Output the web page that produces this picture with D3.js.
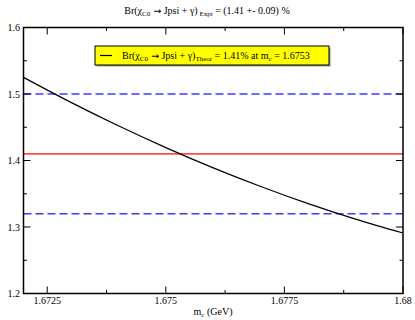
<!DOCTYPE html>
<html><head><meta charset="utf-8">
<script src="https://cdn.jsdelivr.net/npm/d3@7"></script>
<style>body{margin:0;background:#fff}svg{display:block}text{font-family:'Liberation Serif','Times New Roman',Times,'DejaVu Serif',serif}</style>
</head><body><svg id="c" width="415" height="320"></svg>
<script>
// data
const mc = [1.672, 1.673, 1.674, 1.675, 1.676, 1.677, 1.678, 1.679, 1.680];
const br = [1.525, 1.4874, 1.4522, 1.4194, 1.3889, 1.3609, 1.3352, 1.3119, 1.291];
const theorValue = 1.41;
const exptBand = [1.32, 1.50];
const xTicks = [1.6725, 1.675, 1.6775, 1.68];
const xTickLabels = ["1.6725", "1.675", "1.6775", "1.68"];
const xMinor = [1.67375, 1.67625, 1.67875];
const yTicks = [1.2, 1.3, 1.4, 1.5, 1.6];
const yTickLabels = ["1.2", "1.3", "1.4", "1.5", "1.6"];
const yMinor = [1.25, 1.35, 1.45, 1.55];

const FONT = "'Liberation Serif','Times New Roman',Times,'DejaVu Serif',serif";
const svg = d3.select("#c");
const L = 23.5, R = 403, T = 27.5, B = 293.5;
const x = d3.scaleLinear().domain([1.672, 1.68]).range([L, R]);
const y = d3.scaleLinear().domain([1.2, 1.6]).range([B, T]);
const txt = (sel) => sel.append("text").attr("font-family", FONT).attr("font-size", 10);
const arrow = (t) => t.append("tspan").attr("font-family", "'DejaVu Sans',sans-serif").attr("font-size", 9.5).text(" \u2192");

// title
const title = txt(svg).attr("x", 207).attr("y", 14).attr("text-anchor", "middle");
title.append("tspan").text("Br(\u03C7");
title.append("tspan").attr("font-size", 7).attr("dy", 2).text("C0");
arrow(title).attr("dy", -2);
title.append("tspan").text(" Jpsi + \u03B3)");
title.append("tspan").attr("font-size", 7).attr("dy", 2).text(" Expt");
title.append("tspan").attr("dy", -2).text(" = (1.41 +- 0.09) %");

// lines
svg.append("line").attr("x1", L).attr("x2", R).attr("y1", y(theorValue)).attr("y2", y(theorValue))
  .attr("stroke", "#ff4b4b").attr("stroke-width", 1.6);
exptBand.forEach(v => {
  svg.append("line").attr("x1", L).attr("x2", R).attr("y1", y(v)).attr("y2", y(v))
    .attr("stroke", "#3b3bff").attr("stroke-width", 1.6).attr("stroke-dasharray", "8,4");
});
svg.append("path").datum(mc.map((m, i) => [m, br[i]]))
  .attr("d", d3.line().x(d => x(d[0])).y(d => y(d[1])).curve(d3.curveMonotoneX))
  .attr("fill", "none").attr("stroke", "#000").attr("stroke-width", 1.2);

// frame
svg.append("rect").attr("x", L).attr("y", T).attr("width", R - L).attr("height", B - T)
  .attr("fill", "none").attr("stroke", "#000").attr("stroke-width", 1.5);

// ticks (inward, all four sides)
const tk = svg.append("g").attr("stroke", "#000").attr("stroke-width", 1);
xTicks.forEach(v => {
  tk.append("line").attr("x1", x(v)).attr("x2", x(v)).attr("y1", B).attr("y2", B - 7);
  tk.append("line").attr("x1", x(v)).attr("x2", x(v)).attr("y1", T).attr("y2", T + 7);
});
xMinor.forEach(v => {
  tk.append("line").attr("x1", x(v)).attr("x2", x(v)).attr("y1", B).attr("y2", B - 3.5);
  tk.append("line").attr("x1", x(v)).attr("x2", x(v)).attr("y1", T).attr("y2", T + 3.5);
});
yTicks.forEach(v => {
  tk.append("line").attr("x1", L).attr("x2", L + 7).attr("y1", y(v)).attr("y2", y(v));
  tk.append("line").attr("x1", R).attr("x2", R - 7).attr("y1", y(v)).attr("y2", y(v));
});
yMinor.forEach(v => {
  tk.append("line").attr("x1", L).attr("x2", L + 3.5).attr("y1", y(v)).attr("y2", y(v));
  tk.append("line").attr("x1", R).attr("x2", R - 3.5).attr("y1", y(v)).attr("y2", y(v));
});

// tick labels
xTicks.forEach((v, i) => {
  txt(svg).attr("x", x(v)).attr("y", 304).attr("text-anchor", "middle").text(xTickLabels[i]);
});
yTicks.forEach((v, i) => {
  txt(svg).attr("x", 20).attr("y", y(v) + 3.5).attr("text-anchor", "end").text(yTickLabels[i]);
});

// x label
const xl = txt(svg).attr("x", 213).attr("y", 315).attr("text-anchor", "middle");
xl.append("tspan").text("m");
xl.append("tspan").attr("font-size", 7).attr("dy", 2).text("c");
xl.append("tspan").attr("dy", -2).text(" (GeV)");

// legend
svg.append("rect").attr("x", 96.5).attr("y", 47.5).attr("width", 234).attr("height", 19).attr("fill", "#999");
svg.append("rect").attr("x", 95).attr("y", 46).attr("width", 234).attr("height", 19)
  .attr("fill", "#ffff00").attr("stroke", "#000").attr("stroke-width", 1);
svg.append("line").attr("x1", 100).attr("x2", 112).attr("y1", 55.5).attr("y2", 55.5).attr("stroke", "#000").attr("stroke-width", 1.2);
const lt = txt(svg).attr("x", 122).attr("y", 58.5);
lt.append("tspan").text("Br(\u03C7");
lt.append("tspan").attr("font-size", 7).attr("dy", 2).text("C0");
arrow(lt).attr("dy", -2);
lt.append("tspan").text(" Jpsi + \u03B3)");
lt.append("tspan").attr("font-size", 7).attr("dy", 2).text("Theor");
lt.append("tspan").attr("dy", -2).text(" = 1.41% at m");
lt.append("tspan").attr("font-size", 7).attr("dy", 2).text("c");
lt.append("tspan").attr("dy", -2).text(" = 1.6753");
</script></body></html>
